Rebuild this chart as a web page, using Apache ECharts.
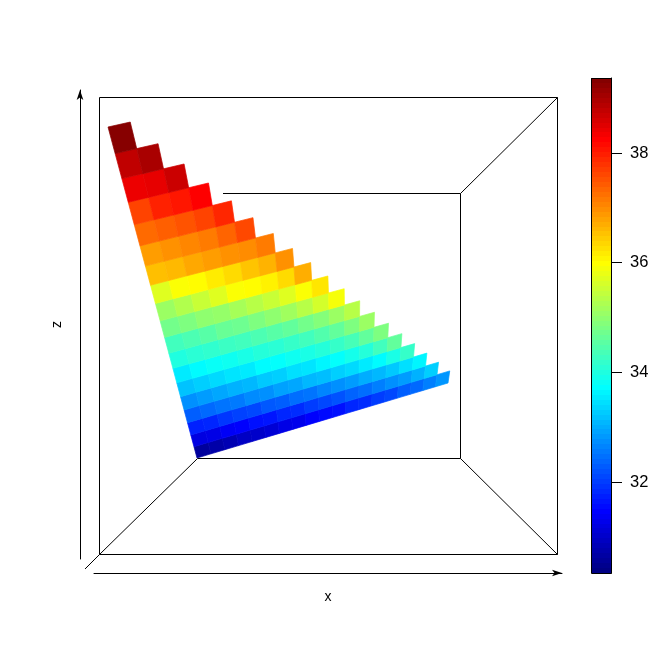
<!DOCTYPE html>
<html><head><meta charset="utf-8">
<style>html,body{margin:0;padding:0;background:#fff}#c{width:672px;height:671px}</style>
<script src="https://cdn.jsdelivr.net/npm/echarts@6/dist/echarts.min.js"></script>
</head><body><div id="c"></div>
<script>
// Surface values: one list per row of the grid, from the near row up to the single far cell
const row00=[30.6,30.7,30.8,30.95,31.0,31.1,31.25,31.3,31.45,31.55,31.6,31.8,31.85,32.0,32.1,32.3,32.4,32.6,32.8];
const row01=[31.2,31.25,31.4,31.45,31.6,31.65,31.8,31.85,32.0,32.1,32.2,32.35,32.45,32.6,32.75,32.85,33.05,33.3];
const row02=[31.75,31.8,31.95,32.05,32.1,32.25,32.3,32.45,32.5,32.65,32.75,32.85,33.0,33.1,33.25,33.45,33.65];
const row03=[32.3,32.4,32.5,32.55,32.7,32.75,32.9,32.95,33.1,33.15,33.3,33.4,33.55,33.7,33.95,34.2];
const row04=[32.75,32.85,32.95,33.05,33.1,33.25,33.3,33.45,33.5,33.65,33.75,33.9,34.05,34.3,34.6];
const row05=[33.2,33.3,33.4,33.5,33.55,33.7,33.75,33.85,33.95,34.05,34.2,34.35,34.6,34.85];
const row06=[33.55,33.7,33.8,33.85,33.95,34.05,34.1,34.2,34.3,34.45,34.6,34.85,35.1];
const row07=[34.0,34.1,34.15,34.25,34.3,34.4,34.5,34.6,34.75,34.9,35.1,35.35];
const row08=[34.3,34.4,34.5,34.65,34.7,34.85,35.0,35.15,35.35,35.6,35.9];
const row09=[34.75,34.85,35.0,35.05,35.2,35.35,35.5,35.7,35.95,36.2];
const row10=[35.1,35.3,35.5,35.7,35.95,36.0,36.1,36.3,36.7];
const row11=[35.7,35.95,36.0,36.15,36.3,36.5,36.65,36.95];
const row12=[36.55,36.6,36.75,36.85,36.95,37.0,37.15];
const row13=[36.85,36.95,37.05,37.15,37.35,37.6];
const row14=[37.3,37.4,37.5,37.65,37.9];
const row15=[37.65,37.95,38.05,38.25];
const row16=[38.4,38.45,38.7];
const row17=[38.8,39.0];
const row18=[39.3];
const rows=[row00,row01,row02,row03,row04,row05,row06,row07,row08,row09,row10,row11,row12,row13,row14,row15,row16,row17,row18];

const valueMin=30.34, valueMax=39.37;
const colorTicks=[32,34,36,38];
const jetStops=[[0,0,127],[0,0,255],[0,127,255],[0,255,255],[127,255,127],[255,255,0],[255,127,0],[255,0,0],[127,0,0]];
const barLevels=100;
const axisNames=['x','z'];

// Box edges in plot units (axis x 0..468, axis z 0..469)
const boxEdges=[
  [[5.5,4.5],[463.5,4.5],[463.5,461.5],[5.5,461.5],[5.5,4.5]],
  [[103.5,100.5],[366.5,100.5],[366.5,365.5],[129,365.5]],
  [[-9,-10],[5.5,4.5],[103.5,100.5]],
  [[463.5,4.5],[366.5,100.5]],
  [[463.5,461.5],[366.5,365.5]]
];
// Where the surface's grid corners project to, in plot units
const gridSize=19;
const corner0=[103,101], cornerA=[354,176], cornerB=[14,432];
const persA=0.057, persB=-0.363;
function project(a,b){
  const s=a/gridSize,t=b/gridSize,w=1+persA*s+persB*t;
  return [0,1].map(i=>(corner0[i]*(1-s-t)+s*(1+persA)*cornerA[i]+t*(1+persB)*cornerB[i])/w);
}
function jet(v){
  const p=Math.max(0,Math.min(1,(v-valueMin)/(valueMax-valueMin)))*(jetStops.length-1);
  const i=Math.min(Math.floor(p),jetStops.length-2),f=p-i;
  const c=jetStops[i].map((x,k)=>Math.round(x+(jetStops[i+1][k]-x)*f));
  return 'rgb('+c.join(',')+')';
}
const cells=[];
rows.forEach((r,b)=>r.forEach((v,a)=>cells.push([a,b,v])));
const barBands=[];
for(let i=0;i<barLevels;i++){
  barBands.push([valueMin+(valueMax-valueMin)*i/barLevels,valueMin+(valueMax-valueMin)*(i+1)/barLevels]);
}
const font='"Liberation Sans"';
const chart=echarts.init(document.getElementById('c'),null,{renderer:'canvas'});
chart.setOption({
  animation:false,backgroundColor:'#fff',
  grid:[
    {left:94,top:90,width:468,height:469},
    {left:591,top:78,width:20,height:495}
  ],
  xAxis:[
    {gridIndex:0,type:'value',min:0,max:468,offset:14,position:'bottom',name:axisNames[0],nameLocation:'middle',nameGap:17,
     nameTextStyle:{fontFamily:font,fontSize:14,color:'#000'},
     axisLine:{show:true,onZero:false,lineStyle:{color:'#000',width:1},symbol:['none','arrow'],symbolSize:[5,10]},
     axisTick:{show:false},axisLabel:{show:false},splitLine:{show:false}},
    {gridIndex:1,type:'value',min:0,max:1,show:false}
  ],
  yAxis:[
    {gridIndex:0,type:'value',min:0,max:469,offset:14,position:'left',name:axisNames[1],nameLocation:'middle',nameGap:16,
     nameTextStyle:{fontFamily:font,fontSize:14,color:'#000'},
     axisLine:{show:true,onZero:false,lineStyle:{color:'#000',width:1},symbol:['none','arrow'],symbolSize:[5,10]},
     axisTick:{show:false},axisLabel:{show:false},splitLine:{show:false}},
    {gridIndex:1,type:'value',min:valueMin,max:valueMax,position:'right',
     axisLine:{show:true,onZero:false,lineStyle:{color:'#000',width:1}},
     axisTick:{show:true,length:11,lineStyle:{color:'#000',width:1},customValues:colorTicks},
     axisLabel:{show:true,margin:19,fontFamily:font,fontSize:16.5,color:'#000',customValues:colorTicks},
     splitLine:{show:false}}
  ],
  series:[
    {type:'custom',xAxisIndex:0,yAxisIndex:0,data:boxEdges.map((e,i)=>[i]),clip:false,z:1,silent:true,
     encode:{x:0,y:0},
     renderItem(params,api){
       const pts=boxEdges[api.value(0)].map(q=>api.coord(q));
       return {type:'polyline',shape:{points:pts},style:{fill:'none',stroke:'#000',lineWidth:1}};
     }},
    {type:'custom',xAxisIndex:0,yAxisIndex:0,data:cells,clip:false,z:2,silent:true,
     renderItem(params,api){
       const a=api.value(0),b=api.value(1),col=jet(api.value(2));
       const pts=[[a,b],[a+1,b],[a+1,b+1],[a,b+1]].map(q=>api.coord(project(q[0],q[1])));
       return {type:'polygon',shape:{points:pts},style:{fill:col,stroke:col,lineWidth:0.7}};
     }},
    {type:'custom',xAxisIndex:1,yAxisIndex:1,data:barBands,z:2,silent:true,
     renderItem(params,api){
       const p0=api.coord([0,api.value(0)]),p1=api.coord([1,api.value(1)]);
       const col=jet((api.value(0)+api.value(1))/2);
       const top=Math.round(p1[1]),bottom=Math.round(p0[1]);
       return {type:'rect',shape:{x:p0[0],y:top,width:p1[0]-p0[0],height:bottom-top},style:{fill:col}};
     }},
    {type:'custom',xAxisIndex:1,yAxisIndex:1,data:[[valueMin,valueMax]],z:3,silent:true,
     renderItem(params,api){
       const p0=api.coord([0,api.value(0)]),p1=api.coord([1,api.value(1)]);
       return {type:'rect',shape:{x:p0[0]+0.5,y:p1[1]+0.5,width:p1[0]-p0[0],height:p0[1]-p1[1]},style:{fill:'none',stroke:'#000',lineWidth:1}};
     }}
  ]
});
</script></body></html>
